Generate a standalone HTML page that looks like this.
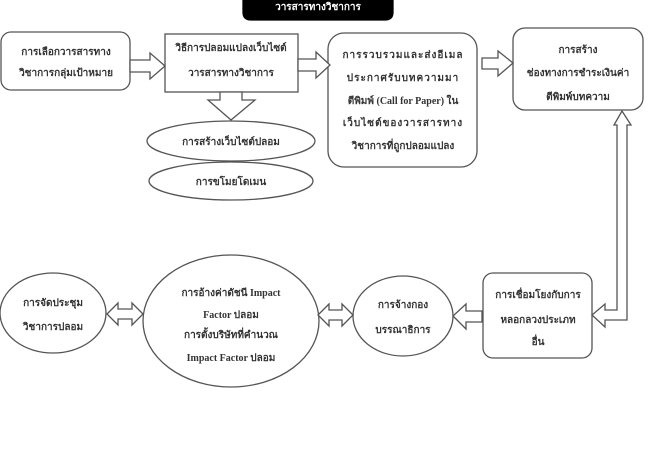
<!DOCTYPE html>
<html><head><meta charset="utf-8"><style>
html,body{margin:0;padding:0;background:#fff;}
svg{display:block;}
text{font-family:"Liberation Serif","Noto Serif CJK SC","Noto Sans CJK SC",serif;font-size:10px;fill:#333;text-anchor:middle;font-weight:bold;}
</style></head><body>
<svg width="650" height="450" viewBox="0 0 650 450" xmlns="http://www.w3.org/2000/svg">
<g stroke="#555" stroke-width="1.3" fill="#fff">
<path d="M243,-2 H393 V12 Q393,20 385,20 H251 Q243,20 243,12 Z" fill="#000" stroke="#000"/>
<rect x="1" y="32" width="129" height="58" rx="10"/>
<rect x="165" y="34" width="133" height="58"/>
<rect x="328" y="33" width="149" height="134" rx="16"/>
<rect x="513" y="28" width="130" height="82" rx="12"/>
<rect x="483" y="273" width="109" height="85" rx="10"/>
<ellipse cx="231" cy="141" rx="84" ry="20"/>
<ellipse cx="231" cy="181" rx="82" ry="19"/>
<ellipse cx="53" cy="313" rx="53" ry="40"/>
<ellipse cx="231" cy="321" rx="88" ry="66"/>
<ellipse cx="403" cy="316" rx="50" ry="40"/>
<polygon points="130,60 150,60 150,53 165,66 150,79 150,72 130,72"/>
<polygon points="298,59 316,59 316,52 330,65 316,78 316,71 298,71"/>
<polygon points="482,58 498,58 498,51 513,63 498,76 498,69 482,69"/>
<polygon points="220,92 242,92 242,100 255,100 231,120 208,100 220,100"/>
<polygon points="482,311 466,311 466,304 453,316 466,329 466,322 482,322"/>
<polygon points="318,315 329,304 329,310 342,310 342,304 353,315 342,326 342,320 329,320 329,326"/>
<polygon points="107,314 118,303 118,309 132,309 132,303 143,314 132,325 132,319 118,319 118,325"/>
<polygon points="614,125 617,125 617,310 605,310 605,304 592,315 605,327 605,320 627,320 627,125 631,125 622,111"/>
</g>
<text x="318" y="10" style="fill:#fff">วารสารทางวิชาการ</text>
<text x="66" y="55">การเลือกวารสารทาง</text>
<text x="66" y="76">วิชาการกลุ่มเป้าหมาย</text>
<text x="231" y="51">วิธีการปลอมแปลงเว็บไซต์</text>
<text x="231" y="76">วารสารทางวิชาการ</text>
<text x="231" y="145">การสร้างเว็บไซต์ปลอม</text>
<text x="231" y="185">การขโมยโดเมน</text>
<text x="403" y="58" letter-spacing="1">การรวบรวมและส่งอีเมล</text>
<text x="403" y="81" letter-spacing="1">ประกาศรับบทความมา</text>
<text x="403" y="104">ตีพิมพ์ (Call for Paper) ใน</text>
<text x="403" y="126" letter-spacing="1">เว็บไซต์ของวารสารทาง</text>
<text x="403" y="149">วิชาการที่ถูกปลอมแปลง</text>
<text x="578" y="53">การสร้าง</text>
<text x="578" y="76">ช่องทางการชำระเงินค่า</text>
<text x="578" y="100">ตีพิมพ์บทความ</text>
<text x="538" y="298">การเชื่อมโยงกับการ</text>
<text x="538" y="323">หลอกลวงประเภท</text>
<text x="538" y="345">อื่น</text>
<text x="403" y="308">การจ้างกอง</text>
<text x="403" y="333">บรรณาธิการ</text>
<text x="231" y="296">การอ้างค่าดัชนี Impact</text>
<text x="231" y="318">Factor ปลอม</text>
<text x="231" y="338">การตั้งบริษัทที่คำนวณ</text>
<text x="231" y="361">Impact Factor ปลอม</text>
<text x="53" y="306">การจัดประชุม</text>
<text x="53" y="330">วิชาการปลอม</text>
</svg>
</body></html>
